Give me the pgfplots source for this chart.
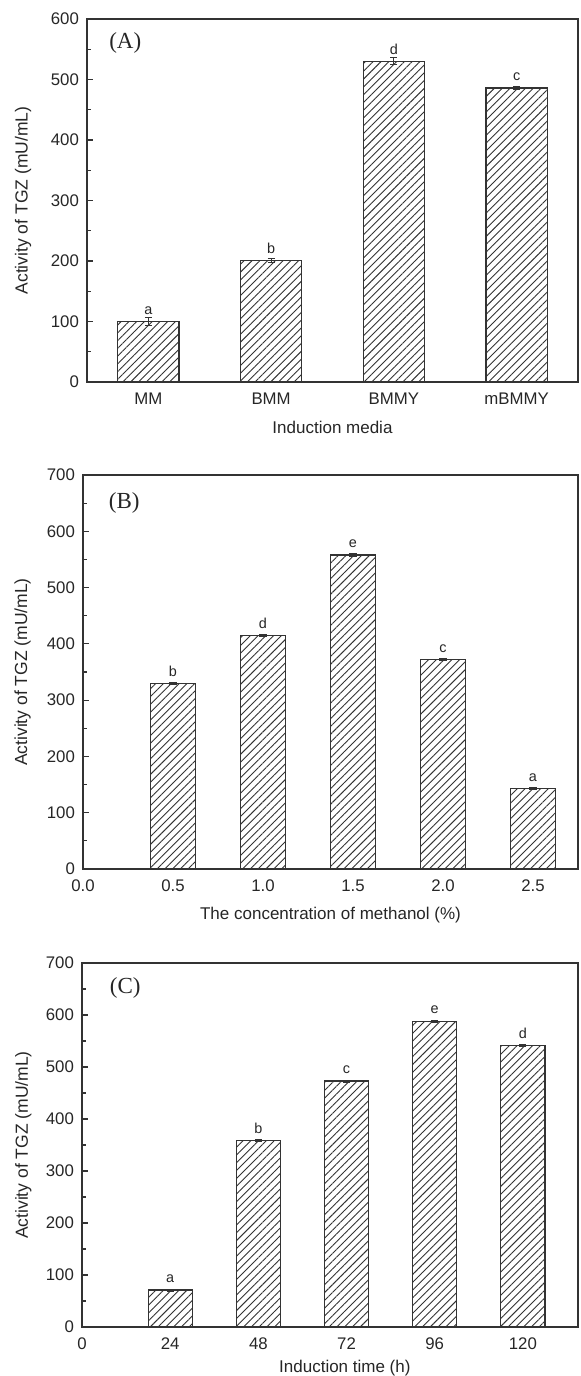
\documentclass[border=0pt]{standalone}
\usepackage{pgfplots}
\pgfplotsset{compat=1.18}
\usepackage{pgfplotstable}
\usetikzlibrary{patterns.meta}
\usepackage{fontspec}
\setmainfont{Liberation Sans}
\newfontfamily\timesfont{Liberation Serif}
\definecolor{axgray}{HTML}{333333}

\pgfplotstableread{
x y e l
1 100 6 a
2 201 3 b
3 530 6 d
4 486 2 c
}\dataA
\pgfplotstableread{
x y e l
0.5 329 2 b
1.0 415 2 d
1.5 558 2 e
2.0 372 2 c
2.5 143 2 a
}\dataB
\pgfplotstableread{
x y e l
24 71 2 a
48 358 2 b
72 473 2 c
96 588 2 e
120 541 2 d
}\dataC

\tikzset{plabel/.style={anchor=west, font=\timesfont\fontsize{11.5}{13}\selectfont, text=black!85}}

\pgfplotsset{
  panel/.style={
    scale only axis,
    ymin=0,
    enlargelimits=false,
    axis line style={draw=axgray,line width=0.9pt},
    tick align=inside,
    ytick pos=left, xtick pos=bottom,
    major tick length=3pt, minor tick length=1.8pt,
    minor y tick num=1,
    every tick/.style={draw=axgray,line width=0.6pt},
    xtick style={draw=none},
    tick label style={font=\fontsize{8.4}{9}\selectfont, text=black!85},
    /pgf/number format/assume math mode=true,
    xlabel style={font=\fontsize{8.5}{10}\selectfont, text=black!85},
    ylabel style={font=\fontsize{8.75}{10}\selectfont, text=black!85},
    xticklabel style={yshift=-2pt},
    yticklabel style={xshift=-0.5pt},
  },
  bars/.style={
    ybar, bar shift=0pt,
    draw=axgray, line width=0.6pt,
    pattern={Lines[angle=45,distance=2.75pt,line width=0.45pt]},
    pattern color=axgray,
    point meta=explicit symbolic,
    nodes near coords,
    nodes near coords style={font=\fontsize{7.2}{8}\selectfont, text=black!85, inner sep=1pt, yshift=2.3pt},
    /pgfplots/error bars/y dir=both,
    /pgfplots/error bars/y explicit,
    /pgfplots/error bars/error bar style={draw=axgray, line width=0.5pt, solid},
    /pgfplots/error bars/error mark options={rotate=90, mark size=1.8pt, draw=axgray, line width=0.5pt},
  },
}

\begin{document}
\begin{tikzpicture}
\path[use as bounding box] (0,0) rectangle (290pt,-688pt);

% Panel A
\begin{axis}[panel,
  at={(43.5pt,-191pt)}, anchor=south west,
  width=245.5pt, height=181.5pt,
  xmin=0.5, xmax=4.5, ymax=600,
  xtick={1,2,3,4}, xticklabels={MM,BMM,BMMY,mBMMY},
  ytick={0,100,...,600},
  xlabel={Induction media},
  ylabel={Activity of TGZ (mU/mL)},
  xlabel style={at={(axis description cs:0.5,-0.124)}, anchor=center},
  ylabel style={at={(axis description cs:-0.130,0.5)}, anchor=center},
]
\addplot[bars, bar width=0.5] table[x=x,y=y,y error=e,meta=l] {\dataA};
\node[plabel] at (rel axis cs:0.031,0.934) {(A)};
\end{axis}

% Panel B
\begin{axis}[panel,
  at={(41.5pt,-434.5pt)}, anchor=south west,
  width=247.5pt, height=197pt,
  xmin=0, xmax=2.75, ymax=700,
  xtick={0,0.5,1.0,1.5,2.0,2.5},
  xticklabel style={/pgf/number format/.cd, fixed, fixed zerofill, precision=1},
  ytick={0,100,...,700},
  xlabel={The concentration of methanol (\%)},
  ylabel={Activity of TGZ (mU/mL)},
  xlabel style={at={(axis description cs:0.5,-0.117)}, anchor=center},
  ylabel style={at={(axis description cs:-0.122,0.5)}, anchor=center},
]
\addplot[bars, bar width=0.25] table[x=x,y=y,y error=e,meta=l] {\dataB};
\node[plabel] at (rel axis cs:0.038,0.929) {(B)};
\end{axis}

% Panel C
\begin{axis}[panel,
  at={(41pt,-663.5pt)}, anchor=south west,
  width=248pt, height=182pt,
  xmin=0, xmax=135, ymax=700,
  xtick={0,24,48,72,96,120},
  ytick={0,100,...,700},
  xlabel={Induction time (h)},
  ylabel={Activity of TGZ (mU/mL)},
  xlabel style={at={(axis description cs:0.53,-0.113)}, anchor=center},
  ylabel style={at={(axis description cs:-0.118,0.5)}, anchor=center},
]
\addplot[bars, bar width=12] table[x=x,y=y,y error=e,meta=l] {\dataC};
\node[plabel] at (rel axis cs:0.042,0.931) {(C)};
\end{axis}
\end{tikzpicture}
\end{document}
